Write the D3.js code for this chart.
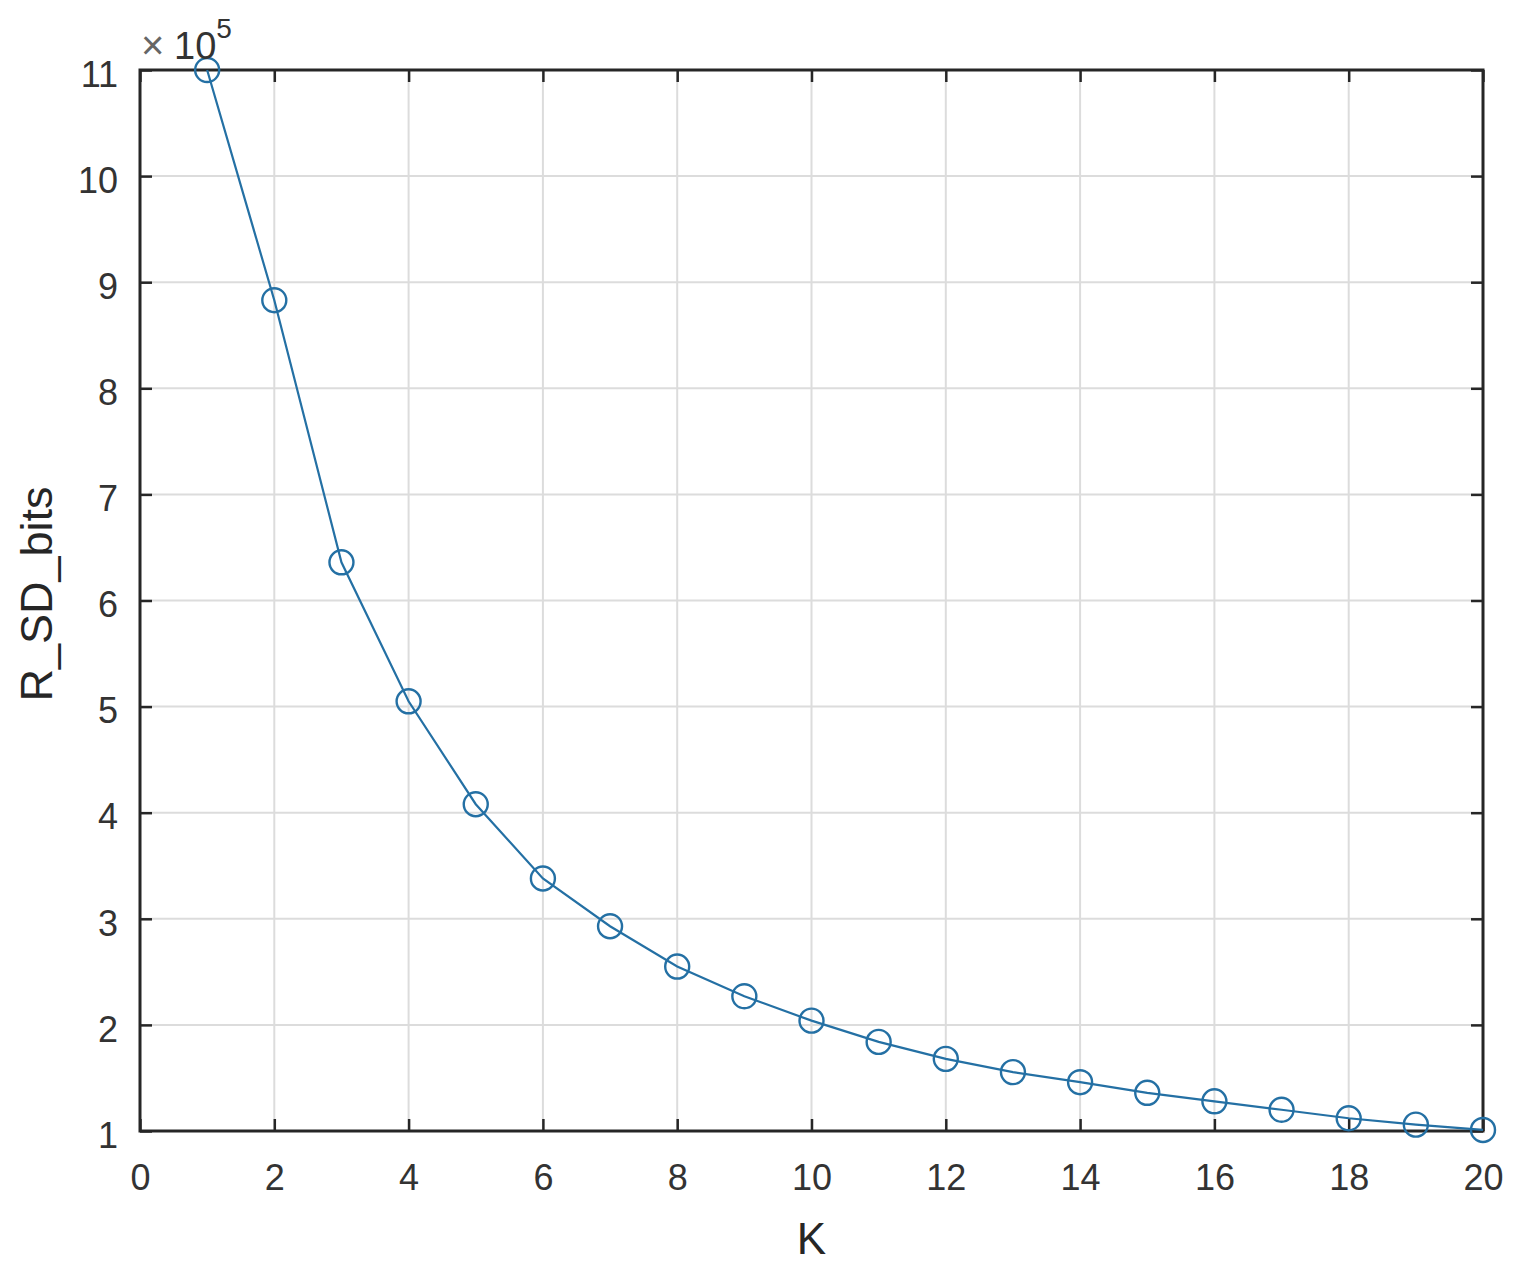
<!DOCTYPE html>
<html>
<head>
<meta charset="utf-8">
<script src="https://cdn.jsdelivr.net/npm/d3@7"></script>
<style>
  html, body { margin: 0; padding: 0; background: #fff; }
  svg { display: block; font-family: "Liberation Sans", Arial, Helvetica, sans-serif; }
</style>
</head>
<body>
<svg id="chart" width="1521" height="1273"></svg>
<script>
// ---- data (values in units of 10^5) ----
const kValues = [1, 2, 3, 4, 5, 6, 7, 8, 9, 10, 11, 12, 13, 14, 15, 16, 17, 18, 19, 20];
const rsdBits = [11.0, 8.83, 6.36, 5.05, 4.08, 3.38, 2.93, 2.55, 2.27, 2.04, 1.84, 1.68, 1.555, 1.46, 1.36, 1.28, 1.20, 1.12, 1.06, 1.01];
const xTicks = [0, 2, 4, 6, 8, 10, 12, 14, 16, 18, 20];
const yTicks = [1, 2, 3, 4, 5, 6, 7, 8, 9, 10, 11];
const xLabel = "K";
const yLabel = "R_SD_bits";
const exponentLabel = "5";

// ---- layout ----
const pLeft = 140, pTop = 70, pRight = 1483, pBottom = 1131;
const lineColor = "#2470a4";

const svg = d3.select("#chart");
const x = d3.scaleLinear().domain([0, 20]).range([pLeft, pRight]);
const y = d3.scaleLinear().domain([1, 11]).range([pBottom, pTop]);

// grid
const grid = svg.append("g");
grid.selectAll(".gx").data(xTicks.slice(1, -1)).join("line")
  .attr("x1", d => x(d)).attr("x2", d => x(d))
  .attr("y1", pTop).attr("y2", pBottom)
  .attr("stroke", "#dcdcdc").attr("stroke-width", 2);
grid.selectAll(".gy").data(yTicks.slice(1, -1)).join("line")
  .attr("y1", d => y(d)).attr("y2", d => y(d))
  .attr("x1", pLeft).attr("x2", pRight)
  .attr("stroke", "#dcdcdc").attr("stroke-width", 2);

// axes (inward ticks on all four sides)
const tickLen = 12;
const axisColor = "#262626";
const fontTick = 36;

const xAxisB = svg.append("g").attr("transform", `translate(0,${pBottom})`)
  .call(d3.axisBottom(x).tickValues(xTicks).tickSizeInner(-tickLen).tickSizeOuter(0).tickPadding(33).tickFormat(d3.format("d")));
const xAxisT = svg.append("g").attr("transform", `translate(0,${pTop})`)
  .call(d3.axisTop(x).tickValues(xTicks).tickSizeInner(-tickLen).tickSizeOuter(0).tickFormat(""));
const yAxisL = svg.append("g").attr("transform", `translate(${pLeft},0)`)
  .call(d3.axisLeft(y).tickValues(yTicks).tickSizeInner(-tickLen).tickSizeOuter(0).tickPadding(22).tickFormat(d3.format("d")));
const yAxisR = svg.append("g").attr("transform", `translate(${pRight},0)`)
  .call(d3.axisRight(y).tickValues(yTicks).tickSizeInner(-tickLen).tickSizeOuter(0).tickFormat(""));

[xAxisB, xAxisT, yAxisL, yAxisR].forEach(g => {
  g.select(".domain").remove();
  g.selectAll(".tick line").attr("stroke", axisColor).attr("stroke-width", 2.5);
  g.selectAll("text").attr("fill", "#333").style("font-size", fontTick + "px")
    .style("font-family", '"Liberation Sans", Arial, sans-serif');
});
yAxisL.selectAll("text").attr("dy", "0.45em");
xAxisB.selectAll("text").attr("dy", "0.71em");

// box
svg.append("rect").attr("x", pLeft).attr("y", pTop)
  .attr("width", pRight - pLeft).attr("height", pBottom - pTop)
  .attr("fill", "none").attr("stroke", axisColor).attr("stroke-width", 3);

// line + markers
const pts = kValues.map((k, i) => [k, rsdBits[i]]);
svg.append("path").datum(pts)
  .attr("d", d3.line().x(d => x(d[0])).y(d => y(d[1])))
  .attr("fill", "none").attr("stroke", lineColor).attr("stroke-width", 2.2);
svg.append("g").selectAll("circle").data(pts).join("circle")
  .attr("cx", d => x(d[0])).attr("cy", d => y(d[1])).attr("r", 12)
  .attr("fill", "none").attr("stroke", lineColor).attr("stroke-width", 2.4);

// labels
svg.append("text").attr("x", (pLeft + pRight) / 2).attr("y", 1254)
  .attr("text-anchor", "middle").attr("fill", "#262626")
  .style("font-size", "44px").text(xLabel);
svg.append("text")
  .attr("transform", `translate(52,594) rotate(-90)`)
  .attr("text-anchor", "middle").attr("fill", "#262626")
  .style("font-size", "45px").text(yLabel);

// exponent marker
const ex = svg.append("text").attr("y", 59).attr("fill", "#333");
ex.append("tspan").attr("x", 141).style("font-size", "40px").attr("fill", "#666").text("\u00d7");
ex.append("tspan").attr("x", 174).style("font-size", "38px").text("10");
ex.append("tspan").attr("dy", -21).style("font-size", "28px").text(exponentLabel);
</script>
</body>
</html>
